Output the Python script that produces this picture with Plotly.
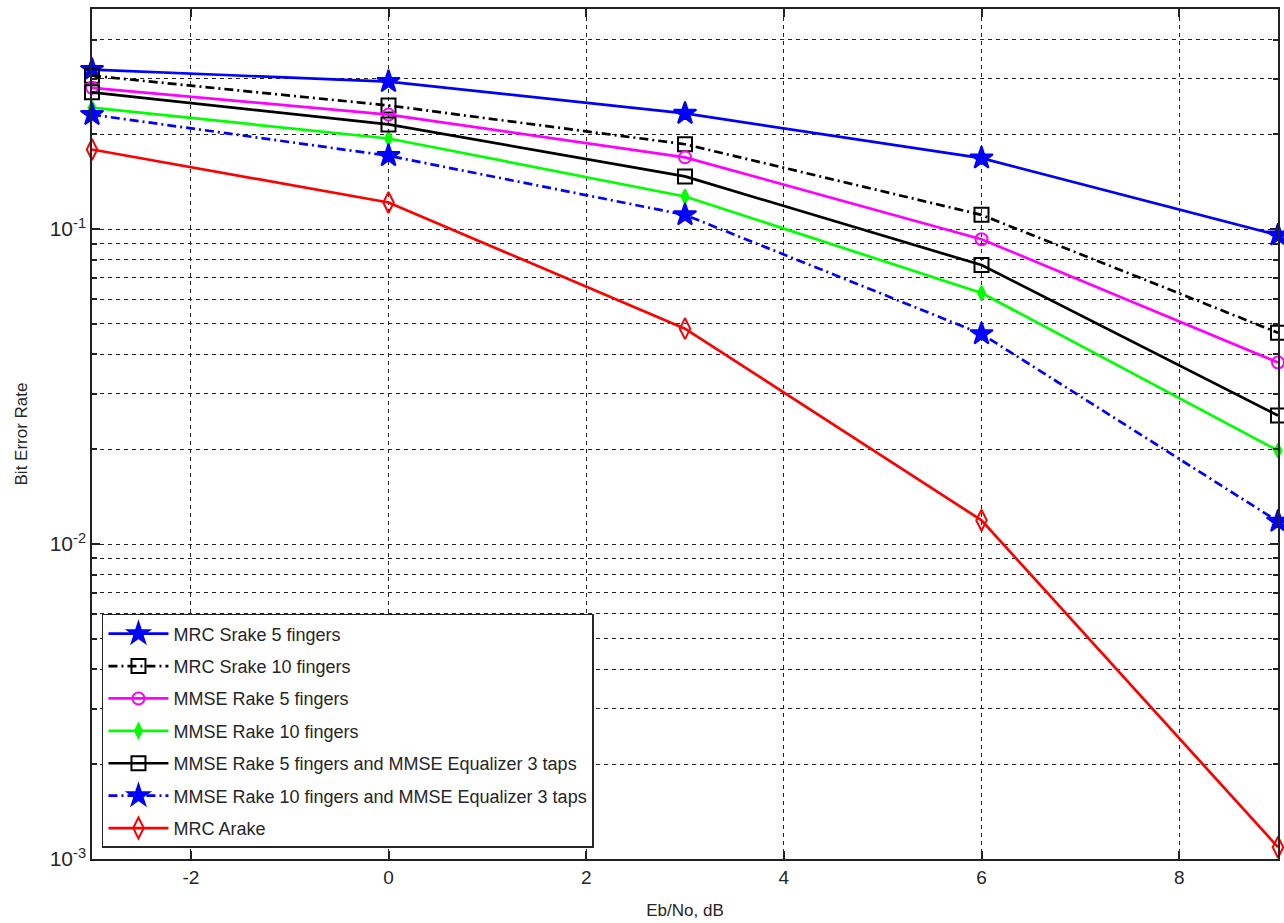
import plotly.graph_objects as go
import numpy as np

ebno = [-3, 0, 3, 6, 9]

mrc_srake5 = [0.321, 0.294, 0.233, 0.168, 0.0957]
mrc_srake10 = [0.307, 0.247, 0.186, 0.111, 0.0469]
mmse_rake5 = [0.281, 0.231, 0.169, 0.0929, 0.0377]
mmse_rake10 = [0.243, 0.194, 0.127, 0.0627, 0.0198]
mmse_rake5_eq3 = [0.272, 0.215, 0.147, 0.0769, 0.0256]
mmse_rake10_eq3 = [0.231, 0.171, 0.111, 0.0465, 0.0118]
mrc_arake = [0.179, 0.1215, 0.0483, 0.0119, 0.00109]

x_ticks = [-2, 0, 2, 4, 6, 8]
x_ticktext = ["-2", "0", "2", "4", "6", "8"]
y_ticks = [1e-3, 1e-2, 1e-1]
y_ticktext = ["10<sup>-3</sup>", "10<sup>-2</sup>", "10<sup>-1</sup>"]
y_minor = [m * d for d in (1e-3, 1e-2, 1e-1) for m in range(2, 10) if m * d <= 0.5 + 1e-9]

names = [
    "MRC Srake 5 fingers",
    "MRC Srake 10 fingers",
    "MMSE Rake 5 fingers",
    "MMSE Rake 10 fingers",
    "MMSE Rake 5 fingers and MMSE Equalizer 3 taps",
    "MMSE Rake 10 fingers and MMSE Equalizer 3 taps",
    "MRC Arake",
]
series = [mrc_srake5, mrc_srake10, mmse_rake5, mmse_rake10,
          mmse_rake5_eq3, mmse_rake10_eq3, mrc_arake]

DASHDOT = "9px,4px,2px,4px"
styles = [
    dict(color="#0000ff", dash="solid", symbol="star", size=17),
    dict(color="#000000", dash=DASHDOT, symbol="square-open", size=14),
    dict(color="#ff00ff", dash="solid", symbol="circle-open", size=12),
    dict(color="#00ff00", dash="solid", symbol="diamond-tall", size=10),
    dict(color="#000000", dash="solid", symbol="square-open", size=14),
    dict(color="#0000ff", dash=DASHDOT, symbol="star", size=17),
    dict(color="#ff0000", dash="solid", symbol="diamond-tall-open", size=15),
]

fig = go.Figure()
for name, ys, st in zip(names, series, styles):
    fig.add_trace(go.Scatter(
        x=ebno, y=ys, name=name, mode="lines+markers", legendgroup=name,
        line=dict(color=st["color"], width=2.7, dash=st["dash"]),
        marker=dict(symbol=st["symbol"], size=st["size"], color=st["color"],
                    line=dict(color=st["color"], width=2)),
        cliponaxis=False,
    ))

font_family = "Liberation Sans, Arial, sans-serif"
grid = dict(gridcolor="#222222", griddash="4px,4px", gridwidth=1)

fig.update_layout(
    width=1284, height=923,
    margin=dict(l=92, r=6, t=9, b=64, autoexpand=False),
    paper_bgcolor="white", plot_bgcolor="white",
    font=dict(family=font_family, size=18, color="#262626"),
    showlegend=True,
    legend=dict(
        x=0.0084, y=0.013, xanchor="left", yanchor="bottom",
        bgcolor="white", bordercolor="#262626", borderwidth=1.5,
        font=dict(family=font_family, size=18, color="#262626"),
        itemwidth=60, tracegroupgap=6,
    ),
    xaxis=dict(
        range=[-3, 9], tickmode="array", tickvals=x_ticks, ticktext=x_ticktext,
        showgrid=True, **grid,
        ticks="inside", ticklen=8, tickcolor="#222222", tickwidth=1.5,
        showline=True, linecolor="#222222", linewidth=1.5, mirror="ticks",
        zeroline=False,
        title=dict(text="Eb/No, dB", font=dict(size=17), standoff=18),
        tickfont=dict(size=19),
    ),
    yaxis=dict(
        type="log", range=[-3, np.log10(0.5)],
        tickmode="array", tickvals=y_ticks, ticktext=y_ticktext,
        showgrid=True, **grid,
        ticks="inside", ticklen=8, tickcolor="#222222", tickwidth=1.5,
        minor=dict(tickmode="array", tickvals=y_minor, showgrid=True, **grid,
                   ticks="inside", ticklen=5, tickcolor="#222222", tickwidth=1.5),
        showline=True, linecolor="#222222", linewidth=1.5, mirror="ticks",
        zeroline=False,
        title=dict(text="Bit Error Rate", font=dict(size=17), standoff=18),
        tickfont=dict(size=21),
    ),
)

fig.write_html(
    "out.html",
    config={"displayModeBar": False},
    post_script="document.body.style.margin='0px';document.body.style.overflow='hidden';",
)
